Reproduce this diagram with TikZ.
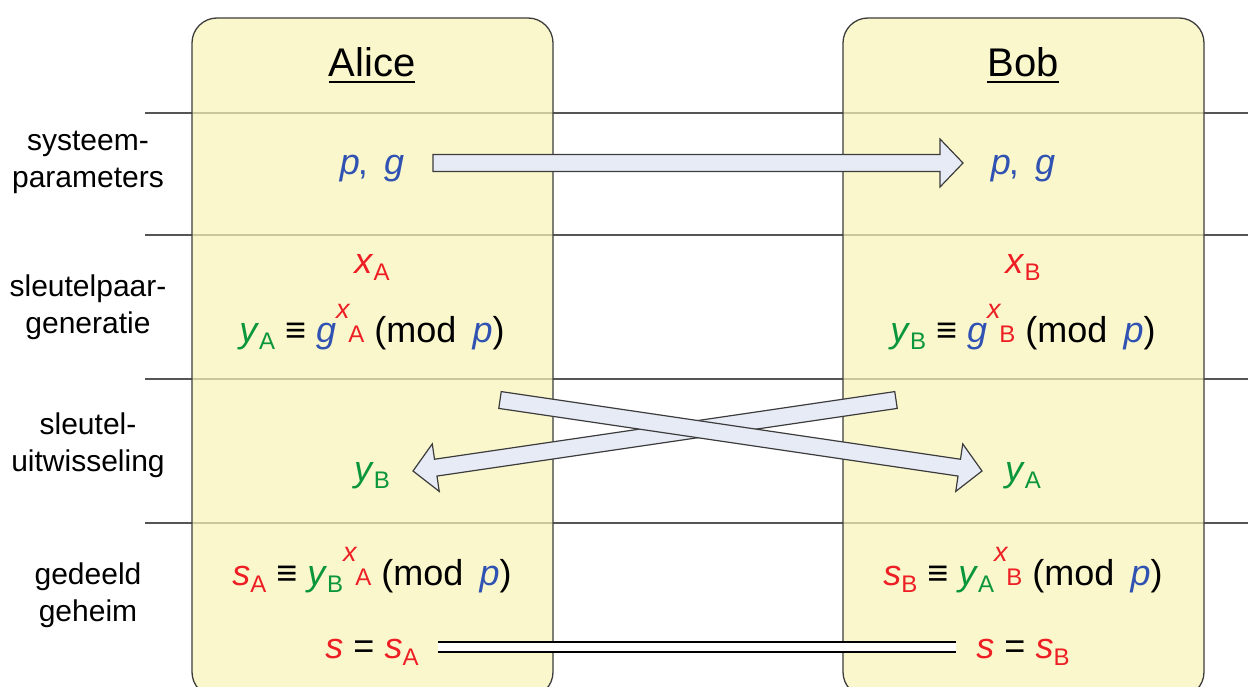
\documentclass[tikz,border=0pt]{standalone}
\usepackage{fontspec}
\setmainfont{Liberation Sans}
\usetikzlibrary{calc}
\definecolor{boxraw}{RGB}{249,244,184}
\definecolor{arrfill}{RGB}{230,235,246}
\definecolor{cred}{RGB}{237,30,36}
\definecolor{cgreen}{RGB}{10,150,60}
\definecolor{cblue}{RGB}{48,82,178}
\definecolor{rulec}{RGB}{85,85,85}
\definecolor{edgec}{RGB}{60,60,60}
\newcommand\lo[1]{\raisebox{-0.2em}{\fontsize{24}{24}\selectfont #1}}
\newcommand\vr[3]{\textcolor{#1}{\textit{#2}\lo{#3}}}
\newcommand\xsup[1]{\textcolor{cred}{\raisebox{0.64em}{\fontsize{27}{27}\selectfont\textit{x}}\kern-2pt{\fontsize{24}{24}\selectfont #1}}}
\newcommand\ul[1]{\setbox0\hbox{#1}\rlap{\rule[-6.5pt]{\wd0}{2.8pt}}\box0}
\newcommand\blockarrow[2]{%
  \coordinate (hb) at ($(#2)!23pt!(#1)$);
  \draw[blockarr] ($(#1)!8.5pt!90:(#2)$) -- ($(hb)!8.5pt!90:(#2)$) -- ($(hb)!24pt!90:(#2)$) -- (#2)
    -- ($(hb)!24pt!-90:(#2)$) -- ($(hb)!8.5pt!-90:(#2)$) -- ($(#1)!8.5pt!-90:(#2)$) -- cycle;}
\tikzset{
  personbox/.style={draw=edgec, line width=1.3pt, fill=boxraw, fill opacity=0.72, draw opacity=1, rounded corners=25pt},
  rowline/.style={draw=rulec, line width=1.5pt},
  blockarr/.style={draw=edgec, line width=1.2pt, fill=arrfill, line join=miter},
  lbl/.style={font=\fontsize{30}{37}\selectfont, align=center, inner sep=0pt},
  ttl/.style={font=\fontsize{40}{44}\selectfont, inner sep=0pt, anchor=base},
  txt/.style={font=\fontsize{36}{40}\selectfont, inner sep=0pt, anchor=base},
  dbl/.style={draw=black, line width=1.3pt, double=white, double distance=8.5pt}
}
\begin{document}
\begin{tikzpicture}[x=1pt,y=-1pt]
\useasboundingbox (0,0) rectangle (1248,687);
% row separators
\foreach \yy in {113,235,379,523} \draw[rowline] (145,\yy) -- (1248,\yy);
% party boxes
\path[personbox] (192,18) rectangle (553,697);
\path[personbox] (843,18) rectangle (1204,697);
% row labels
\node[lbl] (l1) at (88,162) {systeem-\\parameters};
\node[lbl] (l2) at (88,307) {sleutelpaar-\\generatie};
\node[lbl] (l3) at (88,445) {sleutel-\\uitwisseling};
\node[lbl] (l4) at (88,595) {gedeeld\\geheim};
% titles
\node[ttl] (alice) at (372,77) {\ul{Alice}};
\node[ttl] (bob) at (1023,77) {\ul{Bob}};
% system parameters
\node[txt] (pgA) at (372,175) {\color{cblue}\textit{p}\kern-2pt,\hspace{0.45em}\textit{g}};
\node[txt] (pgB) at (1023,175) {\color{cblue}\textit{p}\kern-2pt,\hspace{0.45em}\textit{g}};
\coordinate (ta) at (433,163);
\coordinate (tb) at (963,163);
\blockarrow{ta}{tb}
% key pair generation
\node[txt] (xA) at (372,273) {\vr{cred}{x}{A}};
\node[txt] (xB) at (1023,273) {\vr{cred}{x}{B}};
\node[txt] (yAd) at (372,342) {\vr{cgreen}{y}{A} ≡ \textcolor{cblue}{\textit{g}}\xsup{A} (mod\hspace{0.45em}\textcolor{cblue}{\textit{p}})};
\node[txt] (yBd) at (1023,342) {\vr{cgreen}{y}{B} ≡ \textcolor{cblue}{\textit{g}}\xsup{B} (mod\hspace{0.45em}\textcolor{cblue}{\textit{p}})};
% key exchange
\node[txt] (yBr) at (372,481) {\vr{cgreen}{y}{B}};
\node[txt] (yAr) at (1023,481) {\vr{cgreen}{y}{A}};
\coordinate (b1) at (896,400);
\coordinate (b2) at (413,471);
\blockarrow{b1}{b2}
\coordinate (a1) at (500,400);
\coordinate (a2) at (982,471);
\blockarrow{a1}{a2}
% shared secret
\node[txt] (sAd) at (372,585) {\vr{cred}{s}{A} ≡ \vr{cgreen}{y}{B}\xsup{A} (mod\hspace{0.45em}\textcolor{cblue}{\textit{p}})};
\node[txt] (sBd) at (1023,585) {\vr{cred}{s}{B} ≡ \vr{cgreen}{y}{A}\xsup{B} (mod\hspace{0.45em}\textcolor{cblue}{\textit{p}})};
\node[txt] (eqA) at (372,658) {\textcolor{cred}{\textit{s}} = \vr{cred}{s}{A}};
\node[txt] (eqB) at (1023,658) {\textcolor{cred}{\textit{s}} = \vr{cred}{s}{B}};
\coordinate (dA) at (438,647);
\coordinate (dB) at (956,647);
\draw[dbl] (dA) -- (dB);
\end{tikzpicture}
\end{document}
